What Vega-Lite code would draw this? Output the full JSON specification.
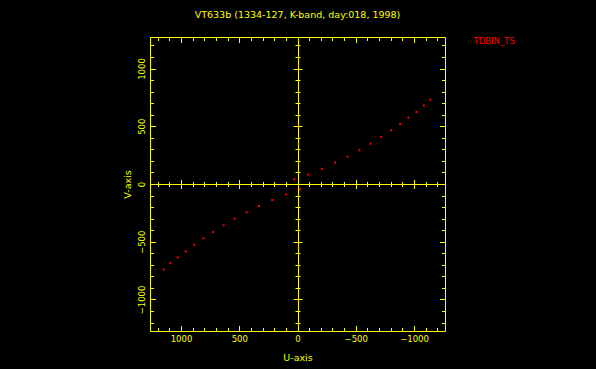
{
  "$schema": "https://vega.github.io/schema/vega-lite/v6.json",
  "width": 295,
  "height": 294,
  "autosize": "none",
  "padding": {"left": 150, "top": 37, "right": 151, "bottom": 38},
  "background": "black",
  "title": {"text": "VT633b (1334-127, K-band, day:018, 1998)", "color": "#ffff00", "font": "DejaVu Sans", "fontSize": 9.5, "fontWeight": "normal", "anchor": "middle", "frame": "group", "offset": 17},
  "data": {"values": [
    {"u": 28, "v": 41, "series": "TDBIN_TS"},
    {"u": -92, "v": 81, "series": "TDBIN_TS"},
    {"u": -209, "v": 130, "series": "TDBIN_TS"},
    {"u": -323, "v": 185, "series": "TDBIN_TS"},
    {"u": -429, "v": 237, "series": "TDBIN_TS"},
    {"u": -532, "v": 292, "series": "TDBIN_TS"},
    {"u": -626, "v": 349, "series": "TDBIN_TS"},
    {"u": -718, "v": 407, "series": "TDBIN_TS"},
    {"u": -804, "v": 465, "series": "TDBIN_TS"},
    {"u": -881, "v": 520, "series": "TDBIN_TS"},
    {"u": -952, "v": 575, "series": "TDBIN_TS"},
    {"u": -1021, "v": 624, "series": "TDBIN_TS"},
    {"u": -1084, "v": 679, "series": "TDBIN_TS"},
    {"u": -1141, "v": 731, "series": "TDBIN_TS"},
    {"u": -22, "v": -46, "series": "TDBIN_TS"},
    {"u": 97, "v": -89, "series": "TDBIN_TS"},
    {"u": 217, "v": -139, "series": "TDBIN_TS"},
    {"u": 331, "v": -191, "series": "TDBIN_TS"},
    {"u": 437, "v": -245, "series": "TDBIN_TS"},
    {"u": 540, "v": -300, "series": "TDBIN_TS"},
    {"u": 634, "v": -358, "series": "TDBIN_TS"},
    {"u": 726, "v": -416, "series": "TDBIN_TS"},
    {"u": 808, "v": -471, "series": "TDBIN_TS"},
    {"u": 888, "v": -526, "series": "TDBIN_TS"},
    {"u": 960, "v": -583, "series": "TDBIN_TS"},
    {"u": 1029, "v": -635, "series": "TDBIN_TS"},
    {"u": 1092, "v": -687, "series": "TDBIN_TS"},
    {"u": 1149, "v": -739, "series": "TDBIN_TS"}
  ]},
  "layer": [
    {
      "mark": {"type": "point", "opacity": 0},
      "encoding": {
        "x": {"field": "u", "type": "quantitative", "scale": {"domain": [-1266, 1266], "reverse": true, "nice": false, "zero": false},
          "axis": {"orient": "bottom", "values": [0], "grid": true, "gridColor": "#ffff00", "gridOpacity": 1, "ticks": false, "labels": false, "domain": false, "title": null}},
        "y": {"field": "v", "type": "quantitative", "scale": {"domain": [-1273, 1273], "nice": false, "zero": false},
          "axis": {"orient": "left", "values": [0], "grid": true, "gridColor": "#ffff00", "gridOpacity": 1, "ticks": false, "labels": false, "domain": false, "title": null}}
      }
    },
    {
      "mark": {"type": "point", "opacity": 0},
      "encoding": {
        "x": {"field": "u", "type": "quantitative",
          "axis": {"orient": "bottom", "values": [-1200,-1100,-1000,-900,-800,-700,-600,-500,-400,-300,-200,-100,0,100,200,300,400,500,600,700,800,900,1000,1100,1200], "tickSize": -3.5, "labels": false, "domain": true, "title": null}},
        "y": {"field": "v", "type": "quantitative",
          "axis": {"orient": "left", "values": [-1200,-1100,-1000,-900,-800,-700,-600,-500,-400,-300,-200,-100,0,100,200,300,400,500,600,700,800,900,1000,1100,1200], "tickSize": -3.5, "labels": false, "domain": true, "title": null}}
      }
    },
    {
      "mark": {"type": "point", "opacity": 0},
      "encoding": {
        "x": {"field": "u", "type": "quantitative",
          "axis": {"orient": "bottom", "values": [-1000,-500,0,500,1000], "format": "d", "tickSize": -5.5, "labelPadding": 9.2, "domain": false, "title": "U-axis", "titlePadding": 9}},
        "y": {"field": "v", "type": "quantitative",
          "axis": {"orient": "left", "values": [-1000,-500,0,500,1000], "format": "d", "tickSize": -5.5, "labelPadding": 9, "labelAngle": 270, "labelAlign": "center", "labelBaseline": "bottom", "domain": false, "title": "V-axis", "titlePadding": 5}}
      }
    },
    {
      "mark": {"type": "point", "opacity": 0},
      "encoding": {
        "x": {"field": "u", "type": "quantitative",
          "axis": {"orient": "top", "values": [-1200,-1100,-1000,-900,-800,-700,-600,-500,-400,-300,-200,-100,0,100,200,300,400,500,600,700,800,900,1000,1100,1200], "tickSize": -3.5, "labels": false, "domain": true, "title": null}},
        "y": {"field": "v", "type": "quantitative",
          "axis": {"orient": "right", "values": [-1200,-1100,-1000,-900,-800,-700,-600,-500,-400,-300,-200,-100,0,100,200,300,400,500,600,700,800,900,1000,1100,1200], "tickSize": -3.5, "labels": false, "domain": true, "title": null}}
      }
    },
    {
      "mark": {"type": "point", "opacity": 0},
      "encoding": {
        "x": {"field": "u", "type": "quantitative",
          "axis": {"orient": "top", "values": [-1000,-500,0,500,1000], "tickSize": -5.5, "labels": false, "domain": false, "title": null}},
        "y": {"field": "v", "type": "quantitative",
          "axis": {"orient": "right", "values": [-1000,-500,0,500,1000], "tickSize": -5.5, "labels": false, "domain": false, "title": null}}
      }
    },
    {
      "mark": {"type": "point", "opacity": 0},
      "encoding": {
        "x": {"field": "u", "type": "quantitative",
          "axis": {"orient": "bottom", "offset": -149.5, "values": [-1200,-1100,-1000,-900,-800,-700,-600,-400,-300,-200,-100,100,200,300,400,600,700,800,900,1000,1100,1200], "tickSize": 5, "labels": false, "domain": false, "title": null}},
        "y": {"field": "v", "type": "quantitative",
          "axis": {"orient": "left", "offset": -150, "values": [-1200,-1100,-1000,-900,-800,-700,-600,-400,-300,-200,-100,100,200,300,400,600,700,800,900,1000,1100,1200], "tickSize": 5, "labels": false, "domain": false, "title": null}}
      }
    },
    {
      "mark": {"type": "point", "opacity": 0},
      "encoding": {
        "x": {"field": "u", "type": "quantitative",
          "axis": {"orient": "bottom", "offset": -151.5, "values": [-1000,-500,500,1000], "tickSize": 9, "labels": false, "domain": false, "title": null}},
        "y": {"field": "v", "type": "quantitative",
          "axis": {"orient": "left", "offset": -152, "values": [-1000,-500,500,1000], "tickSize": 9, "labels": false, "domain": false, "title": null}}
      }
    },
    {
      "mark": {"type": "square", "size": 4, "opacity": 1, "filled": true},
      "encoding": {
        "x": {"field": "u", "type": "quantitative", "axis": null},
        "y": {"field": "v", "type": "quantitative", "axis": null},
        "color": {"field": "series", "type": "nominal", "scale": {"range": ["#ff0000"]},
          "legend": {"orient": "right", "offset": 19, "title": null, "symbolSize": 0, "symbolOpacity": 0, "symbolStrokeWidth": 0, "labelOffset": 0, "padding": 0, "labelColor": "#ff0000", "labelFont": "DejaVu Sans", "labelFontSize": 8.5}}
      }
    }
  ],
  "resolve": {"axis": {"x": "independent", "y": "independent"}},
  "config": {
    "view": {"stroke": null},
    "axis": {"domainColor": "#ffff00", "tickColor": "#ffff00", "labelColor": "#ffff00", "titleColor": "#ffff00", "labelFont": "DejaVu Sans", "labelFontSize": 8.5, "titleFont": "DejaVu Sans", "titleFontSize": 9.5, "titleFontWeight": "normal", "grid": false, "domainWidth": 1, "tickWidth": 1, "labelFlush": false, "labelOverlap": false}
  }
}
